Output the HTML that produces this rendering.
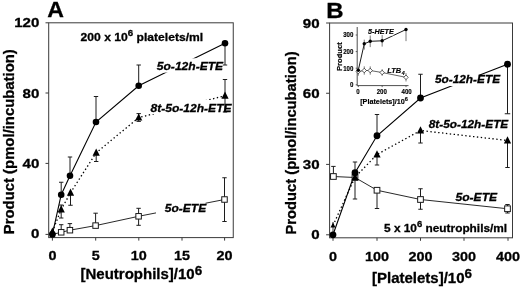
<!DOCTYPE html>
<html><head><meta charset="utf-8"><title>Figure</title>
<style>
html,body{margin:0;padding:0;background:#fff;}
svg{display:block;}
</style></head>
<body>
<svg width="520" height="289" viewBox="0 0 520 289">
<rect x="0" y="0" width="520" height="289" fill="#fff"/>
<rect x="48.7" y="22.8" width="184.55" height="214.79999999999998" fill="none" stroke="#3a3a3a" stroke-width="1"/>
<line x1="45.50" y1="234.40" x2="48.70" y2="234.40" stroke="#3a3a3a" stroke-width="1" />
<text transform="translate(39.40,238.30) scale(1.11,1)" font-size="13.6" text-anchor="end" stroke="#000" stroke-width="0.3" font-family="'Liberation Sans', sans-serif" font-weight="bold" >0</text>
<line x1="45.50" y1="163.40" x2="48.70" y2="163.40" stroke="#3a3a3a" stroke-width="1" />
<text transform="translate(39.40,168.00) scale(1.11,1)" font-size="13.6" text-anchor="end" stroke="#000" stroke-width="0.3" font-family="'Liberation Sans', sans-serif" font-weight="bold" >40</text>
<line x1="45.50" y1="93.00" x2="48.70" y2="93.00" stroke="#3a3a3a" stroke-width="1" />
<text transform="translate(39.40,97.50) scale(1.11,1)" font-size="13.6" text-anchor="end" stroke="#000" stroke-width="0.3" font-family="'Liberation Sans', sans-serif" font-weight="bold" >80</text>
<line x1="45.50" y1="22.80" x2="48.70" y2="22.80" stroke="#3a3a3a" stroke-width="1" />
<text transform="translate(39.40,27.00) scale(1.11,1)" font-size="13.6" text-anchor="end" stroke="#000" stroke-width="0.3" font-family="'Liberation Sans', sans-serif" font-weight="bold" >120</text>
<line x1="52.40" y1="237.60" x2="52.40" y2="240.60" stroke="#3a3a3a" stroke-width="1" />
<text transform="translate(52.40,260.40) scale(1.06,1)" font-size="13.6" text-anchor="middle" stroke="#000" stroke-width="0.3" font-family="'Liberation Sans', sans-serif" font-weight="bold" >0</text>
<line x1="95.70" y1="237.60" x2="95.70" y2="240.60" stroke="#3a3a3a" stroke-width="1" />
<text transform="translate(95.70,260.40) scale(1.06,1)" font-size="13.6" text-anchor="middle" stroke="#000" stroke-width="0.3" font-family="'Liberation Sans', sans-serif" font-weight="bold" >5</text>
<line x1="138.80" y1="237.60" x2="138.80" y2="240.60" stroke="#3a3a3a" stroke-width="1" />
<text transform="translate(138.80,260.40) scale(1.06,1)" font-size="13.6" text-anchor="middle" stroke="#000" stroke-width="0.3" font-family="'Liberation Sans', sans-serif" font-weight="bold" >10</text>
<line x1="182.00" y1="237.60" x2="182.00" y2="240.60" stroke="#3a3a3a" stroke-width="1" />
<text transform="translate(182.00,260.40) scale(1.06,1)" font-size="13.6" text-anchor="middle" stroke="#000" stroke-width="0.3" font-family="'Liberation Sans', sans-serif" font-weight="bold" >15</text>
<line x1="224.60" y1="237.60" x2="224.60" y2="240.60" stroke="#3a3a3a" stroke-width="1" />
<text transform="translate(224.60,260.40) scale(1.06,1)" font-size="13.6" text-anchor="middle" stroke="#000" stroke-width="0.3" font-family="'Liberation Sans', sans-serif" font-weight="bold" >20</text>
<text transform="translate(47.30,17.30) scale(1.05,1)" font-size="22" text-anchor="start" stroke="#000" stroke-width="0.3" font-family="'Liberation Sans', sans-serif" font-weight="bold" >A</text>
<text transform="translate(13.80,141.70) rotate(-90) scale(0.972,1)" font-size="15.3" text-anchor="middle" stroke="#000" stroke-width="0.3" font-family="'Liberation Sans', sans-serif" font-weight="bold">Product (pmol/incubation)</text>
<text transform="translate(80.50,279.20) scale(1.0,1)" font-size="15" text-anchor="start" stroke="#000" stroke-width="0.3" font-family="'Liberation Sans', sans-serif" font-weight="bold" >[Neutrophils]/10<tspan font-size="13.5" dy="-3.8">6</tspan><tspan dy="3.8"></tspan></text>
<text transform="translate(80.60,41.00) scale(1.045,1)" font-size="11.6" text-anchor="start" stroke="#000" stroke-width="0.3" font-family="'Liberation Sans', sans-serif" font-weight="bold" >200 x 10<tspan font-size="9.3" dy="-4.7">6</tspan><tspan dy="4.7"> platelets/ml</tspan></text>
<polyline points="52.40,234.40 61.20,232.30 69.90,230.20 95.60,225.60 138.60,216.30 224.50,199.50" fill="none" stroke="#111" stroke-width="0.9" />
<polyline points="52.40,231.60 61.20,209.50 70.50,192.75 96.20,152.75 138.70,117.60 225.00,95.75" fill="none" stroke="#000" stroke-width="1.3" stroke-dasharray="1.4 2.5"/>
<polyline points="52.40,234.40 61.20,194.75 70.00,175.75 96.00,122.00 138.70,85.75 225.00,43.30" fill="none" stroke="#000" stroke-width="1.1" />
<rect x="155.00" y="58.30" width="68.00" height="14.30" fill="#fff"/>
<rect x="150.00" y="100.00" width="82.00" height="14.00" fill="#fff"/>
<rect x="156.00" y="200.00" width="49.50" height="14.00" fill="#fff"/>
<line x1="61.20" y1="194.75" x2="61.20" y2="182.25" stroke="#1c1c1c" stroke-width="1" />
<line x1="59.00" y1="182.25" x2="63.40" y2="182.25" stroke="#1c1c1c" stroke-width="1" />
<line x1="70.00" y1="175.75" x2="70.00" y2="157.00" stroke="#1c1c1c" stroke-width="1" />
<line x1="67.80" y1="157.00" x2="72.20" y2="157.00" stroke="#1c1c1c" stroke-width="1" />
<line x1="96.00" y1="122.00" x2="96.00" y2="96.50" stroke="#1c1c1c" stroke-width="1" />
<line x1="93.80" y1="96.50" x2="98.20" y2="96.50" stroke="#1c1c1c" stroke-width="1" />
<line x1="138.70" y1="85.75" x2="138.70" y2="65.00" stroke="#1c1c1c" stroke-width="1" />
<line x1="136.50" y1="65.00" x2="140.90" y2="65.00" stroke="#1c1c1c" stroke-width="1" />
<line x1="225.00" y1="43.30" x2="225.00" y2="65.00" stroke="#1c1c1c" stroke-width="1" />
<line x1="222.80" y1="65.00" x2="227.20" y2="65.00" stroke="#1c1c1c" stroke-width="1" />
<line x1="61.20" y1="205.00" x2="61.20" y2="218.00" stroke="#1c1c1c" stroke-width="1" />
<line x1="59.00" y1="205.00" x2="63.40" y2="205.00" stroke="#1c1c1c" stroke-width="1" />
<line x1="59.00" y1="218.00" x2="63.40" y2="218.00" stroke="#1c1c1c" stroke-width="1" />
<line x1="70.50" y1="192.75" x2="70.50" y2="205.25" stroke="#1c1c1c" stroke-width="1" />
<line x1="68.30" y1="205.25" x2="72.70" y2="205.25" stroke="#1c1c1c" stroke-width="1" />
<line x1="96.20" y1="152.75" x2="96.20" y2="161.50" stroke="#1c1c1c" stroke-width="1" />
<line x1="94.00" y1="161.50" x2="98.40" y2="161.50" stroke="#1c1c1c" stroke-width="1" />
<line x1="138.70" y1="113.60" x2="138.70" y2="121.40" stroke="#1c1c1c" stroke-width="1" />
<line x1="136.50" y1="113.60" x2="140.90" y2="113.60" stroke="#1c1c1c" stroke-width="1" />
<line x1="136.50" y1="121.40" x2="140.90" y2="121.40" stroke="#1c1c1c" stroke-width="1" />
<line x1="225.00" y1="79.50" x2="225.00" y2="112.00" stroke="#1c1c1c" stroke-width="1" />
<line x1="222.80" y1="79.50" x2="227.20" y2="79.50" stroke="#1c1c1c" stroke-width="1" />
<line x1="222.80" y1="112.00" x2="227.20" y2="112.00" stroke="#1c1c1c" stroke-width="1" />
<line x1="61.20" y1="232.30" x2="61.20" y2="224.70" stroke="#1c1c1c" stroke-width="1" />
<line x1="59.00" y1="224.70" x2="63.40" y2="224.70" stroke="#1c1c1c" stroke-width="1" />
<line x1="69.90" y1="230.20" x2="69.90" y2="223.60" stroke="#1c1c1c" stroke-width="1" />
<line x1="67.70" y1="223.60" x2="72.10" y2="223.60" stroke="#1c1c1c" stroke-width="1" />
<line x1="95.60" y1="225.60" x2="95.60" y2="213.20" stroke="#1c1c1c" stroke-width="1" />
<line x1="93.40" y1="213.20" x2="97.80" y2="213.20" stroke="#1c1c1c" stroke-width="1" />
<line x1="138.60" y1="208.30" x2="138.60" y2="225.30" stroke="#1c1c1c" stroke-width="1" />
<line x1="136.40" y1="208.30" x2="140.80" y2="208.30" stroke="#1c1c1c" stroke-width="1" />
<line x1="136.40" y1="225.30" x2="140.80" y2="225.30" stroke="#1c1c1c" stroke-width="1" />
<line x1="224.50" y1="177.75" x2="224.50" y2="221.50" stroke="#1c1c1c" stroke-width="1" />
<line x1="222.30" y1="177.75" x2="226.70" y2="177.75" stroke="#1c1c1c" stroke-width="1" />
<line x1="222.30" y1="221.50" x2="226.70" y2="221.50" stroke="#1c1c1c" stroke-width="1" />
<rect x="58.45" y="229.55" width="5.5" height="5.5" fill="#fff" stroke="#1a1a1a" stroke-width="1.0"/>
<rect x="67.15" y="227.45" width="5.5" height="5.5" fill="#fff" stroke="#1a1a1a" stroke-width="1.0"/>
<rect x="92.85" y="222.85" width="5.5" height="5.5" fill="#fff" stroke="#1a1a1a" stroke-width="1.0"/>
<rect x="135.85" y="213.55" width="5.5" height="5.5" fill="#fff" stroke="#1a1a1a" stroke-width="1.0"/>
<rect x="221.75" y="196.75" width="5.5" height="5.5" fill="#fff" stroke="#1a1a1a" stroke-width="1.0"/>
<polygon points="52.40,227.40 48.80,234.60 56.00,234.60" fill="#000"/>
<polygon points="61.20,205.30 57.60,212.50 64.80,212.50" fill="#000"/>
<polygon points="70.50,188.55 66.90,195.75 74.10,195.75" fill="#000"/>
<polygon points="96.20,148.55 92.60,155.75 99.80,155.75" fill="#000"/>
<polygon points="138.70,113.40 135.10,120.60 142.30,120.60" fill="#000"/>
<polygon points="225.00,91.55 221.40,98.75 228.60,98.75" fill="#000"/>
<circle cx="52.40" cy="234.40" r="3.3" fill="#000"/>
<circle cx="61.20" cy="194.75" r="3.3" fill="#000"/>
<circle cx="70.00" cy="175.75" r="3.3" fill="#000"/>
<circle cx="96.00" cy="122.00" r="3.3" fill="#000"/>
<circle cx="138.70" cy="85.75" r="3.3" fill="#000"/>
<circle cx="225.00" cy="43.30" r="3.3" fill="#000"/>
<text transform="translate(156.80,69.50) scale(1.04,1)" font-size="11.6" text-anchor="start" stroke="#000" stroke-width="0.3" font-family="'Liberation Sans', sans-serif" font-weight="bold" font-style="italic">5o-12h-ETE</text>
<text transform="translate(150.50,111.50) scale(1.04,1)" font-size="11.6" text-anchor="start" stroke="#000" stroke-width="0.3" font-family="'Liberation Sans', sans-serif" font-weight="bold" font-style="italic">8t-5o-12h-ETE</text>
<text transform="translate(164.80,211.50) scale(1.035,1)" font-size="11.6" text-anchor="start" stroke="#000" stroke-width="0.3" font-family="'Liberation Sans', sans-serif" font-weight="bold" font-style="italic">5o-ETE</text>
<rect x="329.6" y="23" width="182.89999999999998" height="214.8" fill="none" stroke="#3a3a3a" stroke-width="1"/>
<line x1="326.10" y1="234.80" x2="329.60" y2="234.80" stroke="#3a3a3a" stroke-width="1" />
<text transform="translate(319.60,239.30) scale(1.11,1)" font-size="13.6" text-anchor="end" stroke="#000" stroke-width="0.3" font-family="'Liberation Sans', sans-serif" font-weight="bold" >0</text>
<line x1="326.10" y1="164.40" x2="329.60" y2="164.40" stroke="#3a3a3a" stroke-width="1" />
<text transform="translate(319.60,169.00) scale(1.11,1)" font-size="13.6" text-anchor="end" stroke="#000" stroke-width="0.3" font-family="'Liberation Sans', sans-serif" font-weight="bold" >30</text>
<line x1="326.10" y1="93.25" x2="329.60" y2="93.25" stroke="#3a3a3a" stroke-width="1" />
<text transform="translate(319.60,98.00) scale(1.11,1)" font-size="13.6" text-anchor="end" stroke="#000" stroke-width="0.3" font-family="'Liberation Sans', sans-serif" font-weight="bold" >60</text>
<line x1="326.10" y1="23.00" x2="329.60" y2="23.00" stroke="#3a3a3a" stroke-width="1" />
<text transform="translate(319.60,27.50) scale(1.11,1)" font-size="13.6" text-anchor="end" stroke="#000" stroke-width="0.3" font-family="'Liberation Sans', sans-serif" font-weight="bold" >90</text>
<line x1="333.00" y1="237.80" x2="333.00" y2="240.80" stroke="#3a3a3a" stroke-width="1" />
<text transform="translate(333.00,260.60) scale(1.06,1)" font-size="13.6" text-anchor="middle" stroke="#000" stroke-width="0.3" font-family="'Liberation Sans', sans-serif" font-weight="bold" >0</text>
<line x1="377.00" y1="237.80" x2="377.00" y2="240.80" stroke="#3a3a3a" stroke-width="1" />
<text transform="translate(377.00,260.60) scale(1.06,1)" font-size="13.6" text-anchor="middle" stroke="#000" stroke-width="0.3" font-family="'Liberation Sans', sans-serif" font-weight="bold" >100</text>
<line x1="420.50" y1="237.80" x2="420.50" y2="240.80" stroke="#3a3a3a" stroke-width="1" />
<text transform="translate(420.50,260.60) scale(1.06,1)" font-size="13.6" text-anchor="middle" stroke="#000" stroke-width="0.3" font-family="'Liberation Sans', sans-serif" font-weight="bold" >200</text>
<line x1="464.00" y1="237.80" x2="464.00" y2="240.80" stroke="#3a3a3a" stroke-width="1" />
<text transform="translate(464.00,260.60) scale(1.06,1)" font-size="13.6" text-anchor="middle" stroke="#000" stroke-width="0.3" font-family="'Liberation Sans', sans-serif" font-weight="bold" >300</text>
<line x1="508.00" y1="237.80" x2="508.00" y2="240.80" stroke="#3a3a3a" stroke-width="1" />
<text transform="translate(508.00,260.60) scale(1.06,1)" font-size="13.6" text-anchor="middle" stroke="#000" stroke-width="0.3" font-family="'Liberation Sans', sans-serif" font-weight="bold" >400</text>
<text transform="translate(326.30,17.60) scale(1.09,1)" font-size="22" text-anchor="start" stroke="#000" stroke-width="0.3" font-family="'Liberation Sans', sans-serif" font-weight="bold" >B</text>
<text transform="translate(295.90,142.90) rotate(-90) scale(0.963,1)" font-size="15.3" text-anchor="middle" stroke="#000" stroke-width="0.3" font-family="'Liberation Sans', sans-serif" font-weight="bold">Product (pmol/incubation)</text>
<text transform="translate(372.00,283.00) scale(1.0,1)" font-size="15" text-anchor="start" stroke="#000" stroke-width="0.3" font-family="'Liberation Sans', sans-serif" font-weight="bold" >[Platelets]/10<tspan font-size="13.5" dy="-4.8">6</tspan><tspan dy="4.8"></tspan></text>
<text transform="translate(384.00,232.00) scale(1.022,1)" font-size="11.6" text-anchor="start" stroke="#000" stroke-width="0.3" font-family="'Liberation Sans', sans-serif" font-weight="bold" >5 x 10<tspan font-size="9.3" dy="-4.7">6</tspan><tspan dy="4.7"> neutrophils/ml</tspan></text>
<polyline points="333.40,176.50 355.00,177.50 377.00,190.25 420.50,199.50 507.50,208.75" fill="none" stroke="#111" stroke-width="0.9" />
<polyline points="333.00,225.50 355.00,177.25 377.00,154.50 420.50,130.50 507.50,140.50" fill="none" stroke="#000" stroke-width="1.3" stroke-dasharray="1.4 2.5"/>
<polyline points="333.00,234.80 355.00,172.75 377.00,135.75 420.50,98.00 507.50,64.25" fill="none" stroke="#000" stroke-width="1.1" />
<rect x="434.00" y="75.00" width="66.00" height="11.00" fill="#fff"/>
<line x1="333.40" y1="176.50" x2="333.40" y2="166.40" stroke="#1c1c1c" stroke-width="1" />
<line x1="331.20" y1="166.40" x2="335.60" y2="166.40" stroke="#1c1c1c" stroke-width="1" />
<line x1="355.00" y1="162.00" x2="355.00" y2="199.00" stroke="#1c1c1c" stroke-width="1" />
<line x1="352.80" y1="162.00" x2="357.20" y2="162.00" stroke="#1c1c1c" stroke-width="1" />
<line x1="352.80" y1="199.00" x2="357.20" y2="199.00" stroke="#1c1c1c" stroke-width="1" />
<line x1="377.00" y1="135.75" x2="377.00" y2="114.50" stroke="#1c1c1c" stroke-width="1" />
<line x1="374.80" y1="114.50" x2="379.20" y2="114.50" stroke="#1c1c1c" stroke-width="1" />
<line x1="420.50" y1="98.00" x2="420.50" y2="74.25" stroke="#1c1c1c" stroke-width="1" />
<line x1="418.30" y1="74.25" x2="422.70" y2="74.25" stroke="#1c1c1c" stroke-width="1" />
<line x1="507.50" y1="64.25" x2="507.50" y2="113.75" stroke="#1c1c1c" stroke-width="1" />
<line x1="504.75" y1="113.75" x2="510.25" y2="113.75" stroke="#1c1c1c" stroke-width="1" />
<line x1="377.00" y1="154.50" x2="377.00" y2="165.00" stroke="#1c1c1c" stroke-width="1" />
<line x1="374.80" y1="165.00" x2="379.20" y2="165.00" stroke="#1c1c1c" stroke-width="1" />
<line x1="420.50" y1="130.50" x2="420.50" y2="143.00" stroke="#1c1c1c" stroke-width="1" />
<line x1="418.30" y1="143.00" x2="422.70" y2="143.00" stroke="#1c1c1c" stroke-width="1" />
<line x1="507.50" y1="140.50" x2="507.50" y2="167.50" stroke="#1c1c1c" stroke-width="1" />
<line x1="505.30" y1="167.50" x2="509.70" y2="167.50" stroke="#1c1c1c" stroke-width="1" />
<line x1="377.00" y1="190.25" x2="377.00" y2="208.50" stroke="#1c1c1c" stroke-width="1" />
<line x1="374.80" y1="208.50" x2="379.20" y2="208.50" stroke="#1c1c1c" stroke-width="1" />
<line x1="420.50" y1="188.75" x2="420.50" y2="209.25" stroke="#1c1c1c" stroke-width="1" />
<line x1="418.30" y1="188.75" x2="422.70" y2="188.75" stroke="#1c1c1c" stroke-width="1" />
<line x1="418.30" y1="209.25" x2="422.70" y2="209.25" stroke="#1c1c1c" stroke-width="1" />
<line x1="507.50" y1="204.50" x2="507.50" y2="213.00" stroke="#1c1c1c" stroke-width="1" />
<line x1="505.30" y1="204.50" x2="509.70" y2="204.50" stroke="#1c1c1c" stroke-width="1" />
<line x1="505.30" y1="213.00" x2="509.70" y2="213.00" stroke="#1c1c1c" stroke-width="1" />
<line x1="333.00" y1="222.00" x2="333.00" y2="232.00" stroke="#1c1c1c" stroke-width="0.9" />
<rect x="330.55" y="173.65" width="5.7" height="5.7" fill="#fff" stroke="#1a1a1a" stroke-width="1.0"/>
<rect x="352.15" y="174.65" width="5.7" height="5.7" fill="#fff" stroke="#1a1a1a" stroke-width="1.0"/>
<rect x="374.15" y="187.40" width="5.7" height="5.7" fill="#fff" stroke="#1a1a1a" stroke-width="1.0"/>
<rect x="417.65" y="196.65" width="5.7" height="5.7" fill="#fff" stroke="#1a1a1a" stroke-width="1.0"/>
<rect x="504.65" y="205.90" width="5.7" height="5.7" fill="#fff" stroke="#1a1a1a" stroke-width="1.0"/>
<polygon points="333.00,222.50 330.50,227.50 335.50,227.50" fill="#000"/>
<polygon points="355.00,173.05 351.40,180.25 358.60,180.25" fill="#000"/>
<polygon points="377.00,150.30 373.40,157.50 380.60,157.50" fill="#000"/>
<polygon points="420.50,126.30 416.90,133.50 424.10,133.50" fill="#000"/>
<polygon points="507.50,136.30 503.90,143.50 511.10,143.50" fill="#000"/>
<circle cx="333.00" cy="234.80" r="3.4" fill="#000"/>
<circle cx="355.00" cy="172.75" r="3.4" fill="#000"/>
<circle cx="377.00" cy="135.75" r="3.4" fill="#000"/>
<circle cx="420.50" cy="98.00" r="3.4" fill="#000"/>
<circle cx="507.50" cy="64.25" r="3.4" fill="#000"/>
<text transform="translate(435.00,83.00) scale(1.02,1)" font-size="11.6" text-anchor="start" stroke="#000" stroke-width="0.3" font-family="'Liberation Sans', sans-serif" font-weight="bold" font-style="italic">5o-12h-ETE</text>
<text transform="translate(428.80,127.50) scale(1.02,1)" font-size="11.6" text-anchor="start" stroke="#000" stroke-width="0.3" font-family="'Liberation Sans', sans-serif" font-weight="bold" font-style="italic">8t-5o-12h-ETE</text>
<text transform="translate(455.50,200.50) scale(1.04,1)" font-size="11.6" text-anchor="start" stroke="#000" stroke-width="0.3" font-family="'Liberation Sans', sans-serif" font-weight="bold" font-style="italic">5o-ETE</text>
<line x1="357.20" y1="27.00" x2="357.20" y2="85.60" stroke="#3a3a3a" stroke-width="0.9" />
<line x1="357.20" y1="85.60" x2="408.50" y2="85.60" stroke="#3a3a3a" stroke-width="0.9" />
<line x1="355.70" y1="84.80" x2="357.20" y2="84.80" stroke="#3a3a3a" stroke-width="0.8" />
<text transform="translate(353.40,87.10) scale(0.97,1)" font-size="6.3" text-anchor="end" stroke="#000" stroke-width="0.15" font-family="'Liberation Sans', sans-serif" font-weight="bold" >0</text>
<line x1="355.70" y1="68.20" x2="357.20" y2="68.20" stroke="#3a3a3a" stroke-width="0.8" />
<text transform="translate(353.40,70.50) scale(0.97,1)" font-size="6.3" text-anchor="end" stroke="#000" stroke-width="0.15" font-family="'Liberation Sans', sans-serif" font-weight="bold" >100</text>
<line x1="355.70" y1="51.60" x2="357.20" y2="51.60" stroke="#3a3a3a" stroke-width="0.8" />
<text transform="translate(353.40,53.90) scale(0.97,1)" font-size="6.3" text-anchor="end" stroke="#000" stroke-width="0.15" font-family="'Liberation Sans', sans-serif" font-weight="bold" >200</text>
<line x1="355.70" y1="35.00" x2="357.20" y2="35.00" stroke="#3a3a3a" stroke-width="0.8" />
<text transform="translate(353.40,37.30) scale(0.97,1)" font-size="6.3" text-anchor="end" stroke="#000" stroke-width="0.15" font-family="'Liberation Sans', sans-serif" font-weight="bold" >300</text>
<line x1="358.30" y1="85.60" x2="358.30" y2="87.10" stroke="#3a3a3a" stroke-width="0.8" />
<text transform="translate(358.00,94.20) scale(0.97,1)" font-size="6.3" text-anchor="middle" stroke="#000" stroke-width="0.15" font-family="'Liberation Sans', sans-serif" font-weight="bold" >0</text>
<line x1="382.15" y1="85.60" x2="382.15" y2="87.10" stroke="#3a3a3a" stroke-width="0.8" />
<text transform="translate(381.80,94.20) scale(0.97,1)" font-size="6.3" text-anchor="middle" stroke="#000" stroke-width="0.15" font-family="'Liberation Sans', sans-serif" font-weight="bold" >200</text>
<line x1="406.00" y1="85.60" x2="406.00" y2="87.10" stroke="#3a3a3a" stroke-width="0.8" />
<text transform="translate(406.60,94.20) scale(0.97,1)" font-size="6.3" text-anchor="middle" stroke="#000" stroke-width="0.15" font-family="'Liberation Sans', sans-serif" font-weight="bold" >400</text>
<text transform="translate(342.20,56.60) rotate(-90) scale(1,1)" font-size="7.6" text-anchor="middle" stroke="#000" stroke-width="0.15" font-family="'Liberation Sans', sans-serif" font-weight="bold">Product</text>
<text transform="translate(360.20,104.20) scale(1.08,1)" font-size="6.7" text-anchor="start" stroke="#000" stroke-width="0.15" font-family="'Liberation Sans', sans-serif" font-weight="bold" >[Platelets]/10<tspan font-size="5.2" dy="-3">6</tspan><tspan dy="3"></tspan></text>
<polyline points="358.30,71.52 364.26,70.52 370.23,70.52 382.15,72.52 406.00,77.33" fill="none" stroke="#222" stroke-width="0.7" />
<polyline points="358.30,70.19 364.26,43.80 370.23,41.31 382.15,40.81 406.00,29.52" fill="none" stroke="#000" stroke-width="0.9" />
<rect x="367.00" y="28.50" width="26.50" height="7.00" fill="#fff"/>
<line x1="358.30" y1="70.19" x2="358.30" y2="70.19" stroke="#555" stroke-width="0.8" />
<line x1="364.26" y1="39.65" x2="364.26" y2="49.61" stroke="#555" stroke-width="0.8" />
<line x1="370.23" y1="35.50" x2="370.23" y2="47.12" stroke="#555" stroke-width="0.8" />
<line x1="382.15" y1="35.00" x2="382.15" y2="46.62" stroke="#555" stroke-width="0.8" />
<line x1="406.00" y1="29.52" x2="406.00" y2="41.14" stroke="#555" stroke-width="0.8" />
<line x1="358.30" y1="67.37" x2="358.30" y2="75.67" stroke="#555" stroke-width="0.8" />
<line x1="364.26" y1="66.37" x2="364.26" y2="74.67" stroke="#555" stroke-width="0.8" />
<line x1="370.23" y1="66.37" x2="370.23" y2="74.67" stroke="#555" stroke-width="0.8" />
<line x1="382.15" y1="69.20" x2="382.15" y2="75.84" stroke="#555" stroke-width="0.8" />
<line x1="406.00" y1="73.18" x2="406.00" y2="81.48" stroke="#555" stroke-width="0.8" />
<polygon points="358.30,69.22 360.50,71.52 358.30,73.82 356.10,71.52" fill="#fff" stroke="#222" stroke-width="0.7"/>
<polygon points="364.26,68.22 366.46,70.52 364.26,72.82 362.06,70.52" fill="#fff" stroke="#222" stroke-width="0.7"/>
<polygon points="370.23,68.22 372.43,70.52 370.23,72.82 368.03,70.52" fill="#fff" stroke="#222" stroke-width="0.7"/>
<polygon points="382.15,70.22 384.35,72.52 382.15,74.82 379.95,72.52" fill="#fff" stroke="#222" stroke-width="0.7"/>
<polygon points="406.00,75.03 408.20,77.33 406.00,79.63 403.80,77.33" fill="#fff" stroke="#222" stroke-width="0.7"/>
<circle cx="358.30" cy="70.19" r="1.7" fill="#000"/>
<circle cx="364.26" cy="43.80" r="1.7" fill="#000"/>
<circle cx="370.23" cy="41.31" r="1.7" fill="#000"/>
<circle cx="382.15" cy="40.81" r="1.7" fill="#000"/>
<circle cx="406.00" cy="29.52" r="1.7" fill="#000"/>
<text transform="translate(368.00,34.00) scale(1.08,1)" font-size="6.7" text-anchor="start" stroke="#000" stroke-width="0.15" font-family="'Liberation Sans', sans-serif" font-weight="bold" font-style="italic">5-HETE</text>
<text transform="translate(387.20,72.50) scale(1.08,1)" font-size="6.9" text-anchor="start" stroke="#000" stroke-width="0.15" font-family="'Liberation Sans', sans-serif" font-weight="bold" font-style="italic">LTB<tspan font-size="5" dx="0.5" dy="2.6">4</tspan></text>
</svg>
</body></html>
